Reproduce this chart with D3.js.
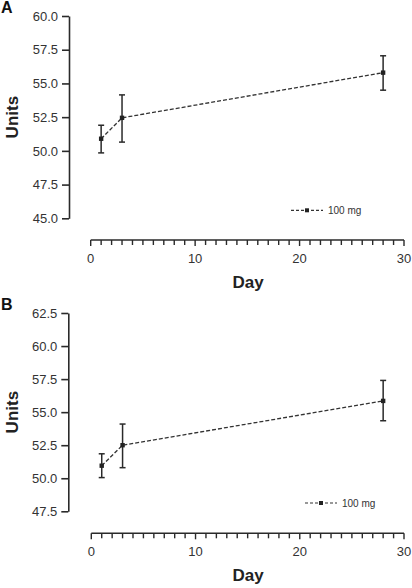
<!DOCTYPE html>
<html>
<head>
<meta charset="utf-8">
<script src="https://cdn.jsdelivr.net/npm/d3@7"></script>
<style>
  html, body { margin: 0; padding: 0; background: #fff; }
  svg { display: block; font-family: "Liberation Sans", Arial, sans-serif; }
</style>
</head>
<body>
<svg id="chart" width="412" height="588"></svg>
<script>
// ---- data ----
const days = [1, 3, 28];
const meanA = [50.9, 52.45, 55.8];
const upperA = [51.9, 54.15, 57.05];
const lowerA = [49.85, 50.65, 54.5];
const meanB = [50.95, 52.5, 55.85];
const upperB = [51.85, 54.1, 57.4];
const lowerB = [50.05, 50.8, 54.35];
const yTicksA = [45, 47.5, 50, 52.5, 55, 57.5, 60];
const yTicksB = [47.5, 50, 52.5, 55, 57.5, 60, 62.5];
const xTicks = [0, 10, 20, 30];
const xMinor = d3.range(0, 31, 1);
const seriesName = "100 mg";
const panelLabels = ["A", "B"];

const svg = d3.select("#chart");
const ink = "#2a2a2a";

function drawPanel(cfg) {
  const g = svg.append("g");
  const y = d3.scaleLinear().domain(cfg.yDomain).range([cfg.yBottom, cfg.yTop]);
  const x = d3.scaleLinear().domain([0, 30]).range([cfg.xLeft, cfg.xRight]);

  // panel letter
  g.append("text").attr("x", 1).attr("y", cfg.yTop - 3)
    .attr("font-size", 16).attr("font-weight", "bold").attr("fill", "#111")
    .text(cfg.label);

  // y axis
  const yAxis = d3.axisLeft(y).tickValues(cfg.yTicks).tickFormat(d3.format(".1f"))
    .tickSizeOuter(0).tickSizeInner(7).tickPadding(4);
  const ya = g.append("g").attr("transform", `translate(${cfg.yAxisX},0)`).call(yAxis);
  ya.select(".domain").attr("stroke", ink).attr("stroke-width", 1.6);
  ya.selectAll(".tick line").attr("stroke", ink).attr("stroke-width", 1.6);
  ya.selectAll(".tick text").attr("font-size", 13).attr("fill", "#333")
    .attr("font-family", "Liberation Sans, Arial, sans-serif");

  // x axis: minor ticks
  const xa = g.append("g").attr("transform", `translate(0,${cfg.xAxisY})`);
  xa.append("line").attr("x1", x(0)).attr("x2", x(30)).attr("y1", 0).attr("y2", 0)
    .attr("stroke", ink).attr("stroke-width", 1.6);
  xa.selectAll("line.minor").data(xMinor).enter().append("line")
    .attr("class", "minor")
    .attr("x1", d => x(d)).attr("x2", d => x(d))
    .attr("y1", 0).attr("y2", d => xTicks.includes(d) ? 6 : 5)
    .attr("stroke", ink).attr("stroke-width", 1.4);
  xa.selectAll("text").data(xTicks).enter().append("text")
    .attr("x", d => x(d)).attr("y", 23)
    .attr("text-anchor", "middle").attr("font-size", 13).attr("fill", "#333")
    .text(d => d);

  // axis titles
  g.append("text").attr("x", 248).attr("y", cfg.xAxisY + 48)
    .attr("text-anchor", "middle").attr("font-size", 17).attr("font-weight", "bold").attr("fill", "#222")
    .text("Day");
  g.append("text")
    .attr("transform", `translate(18,${(cfg.yTop + cfg.yBottom) / 2}) rotate(-90)`)
    .attr("text-anchor", "middle").attr("font-size", 17).attr("font-weight", "bold").attr("fill", "#222")
    .text("Units");

  // error bars
  const eb = g.append("g");
  days.forEach((d, i) => {
    const cx = x(d);
    eb.append("line").attr("x1", cx).attr("x2", cx)
      .attr("y1", y(cfg.upper[i])).attr("y2", y(cfg.lower[i]))
      .attr("stroke", ink).attr("stroke-width", 1.5);
    [cfg.upper[i], cfg.lower[i]].forEach(v => {
      eb.append("line").attr("x1", cx - 3).attr("x2", cx + 3)
        .attr("y1", y(v)).attr("y2", y(v))
        .attr("stroke", ink).attr("stroke-width", 1.5);
    });
  });

  // dashed line
  const line = d3.line().x((d, i) => x(days[i])).y(d => y(d));
  g.append("path").datum(cfg.mean).attr("d", line)
    .attr("fill", "none").attr("stroke", "#333").attr("stroke-width", 1.3)
    .attr("stroke-dasharray", "4,2");

  // markers
  g.selectAll("rect.mk").data(cfg.mean).enter().append("rect")
    .attr("class", "mk")
    .attr("x", (d, i) => x(days[i]) - 2.2).attr("y", d => y(d) - 2.2)
    .attr("width", 4.4).attr("height", 4.4).attr("fill", "#222");

  // legend
  const lg = g.append("g").attr("transform", `translate(${cfg.legX},${cfg.legY})`);
  lg.append("line").attr("x1", 0).attr("x2", 32).attr("y1", 0).attr("y2", 0)
    .attr("stroke", "#333").attr("stroke-width", 1.2).attr("stroke-dasharray", "3,2");
  lg.append("rect").attr("x", 14).attr("y", -2).attr("width", 4).attr("height", 4).attr("fill", "#222");
  lg.append("text").attr("x", 37).attr("y", 3.5).attr("font-size", 10).attr("fill", "#333")
    .text(seriesName);
}

drawPanel({
  label: panelLabels[0], yDomain: [45, 60], yTicks: yTicksA,
  yTop: 16, yBottom: 218.3, yAxisX: 69,
  xLeft: 90.7, xRight: 404, xAxisY: 240,
  mean: meanA, upper: upperA, lower: lowerA,
  legX: 291, legY: 210.3
});
drawPanel({
  label: panelLabels[1], yDomain: [47.5, 62.5], yTicks: yTicksB,
  yTop: 313, yBottom: 511.3, yAxisX: 68.3,
  xLeft: 91.3, xRight: 404, xAxisY: 533.3,
  mean: meanB, upper: upperB, lower: lowerB,
  legX: 305, legY: 503
});
</script>
</body>
</html>
